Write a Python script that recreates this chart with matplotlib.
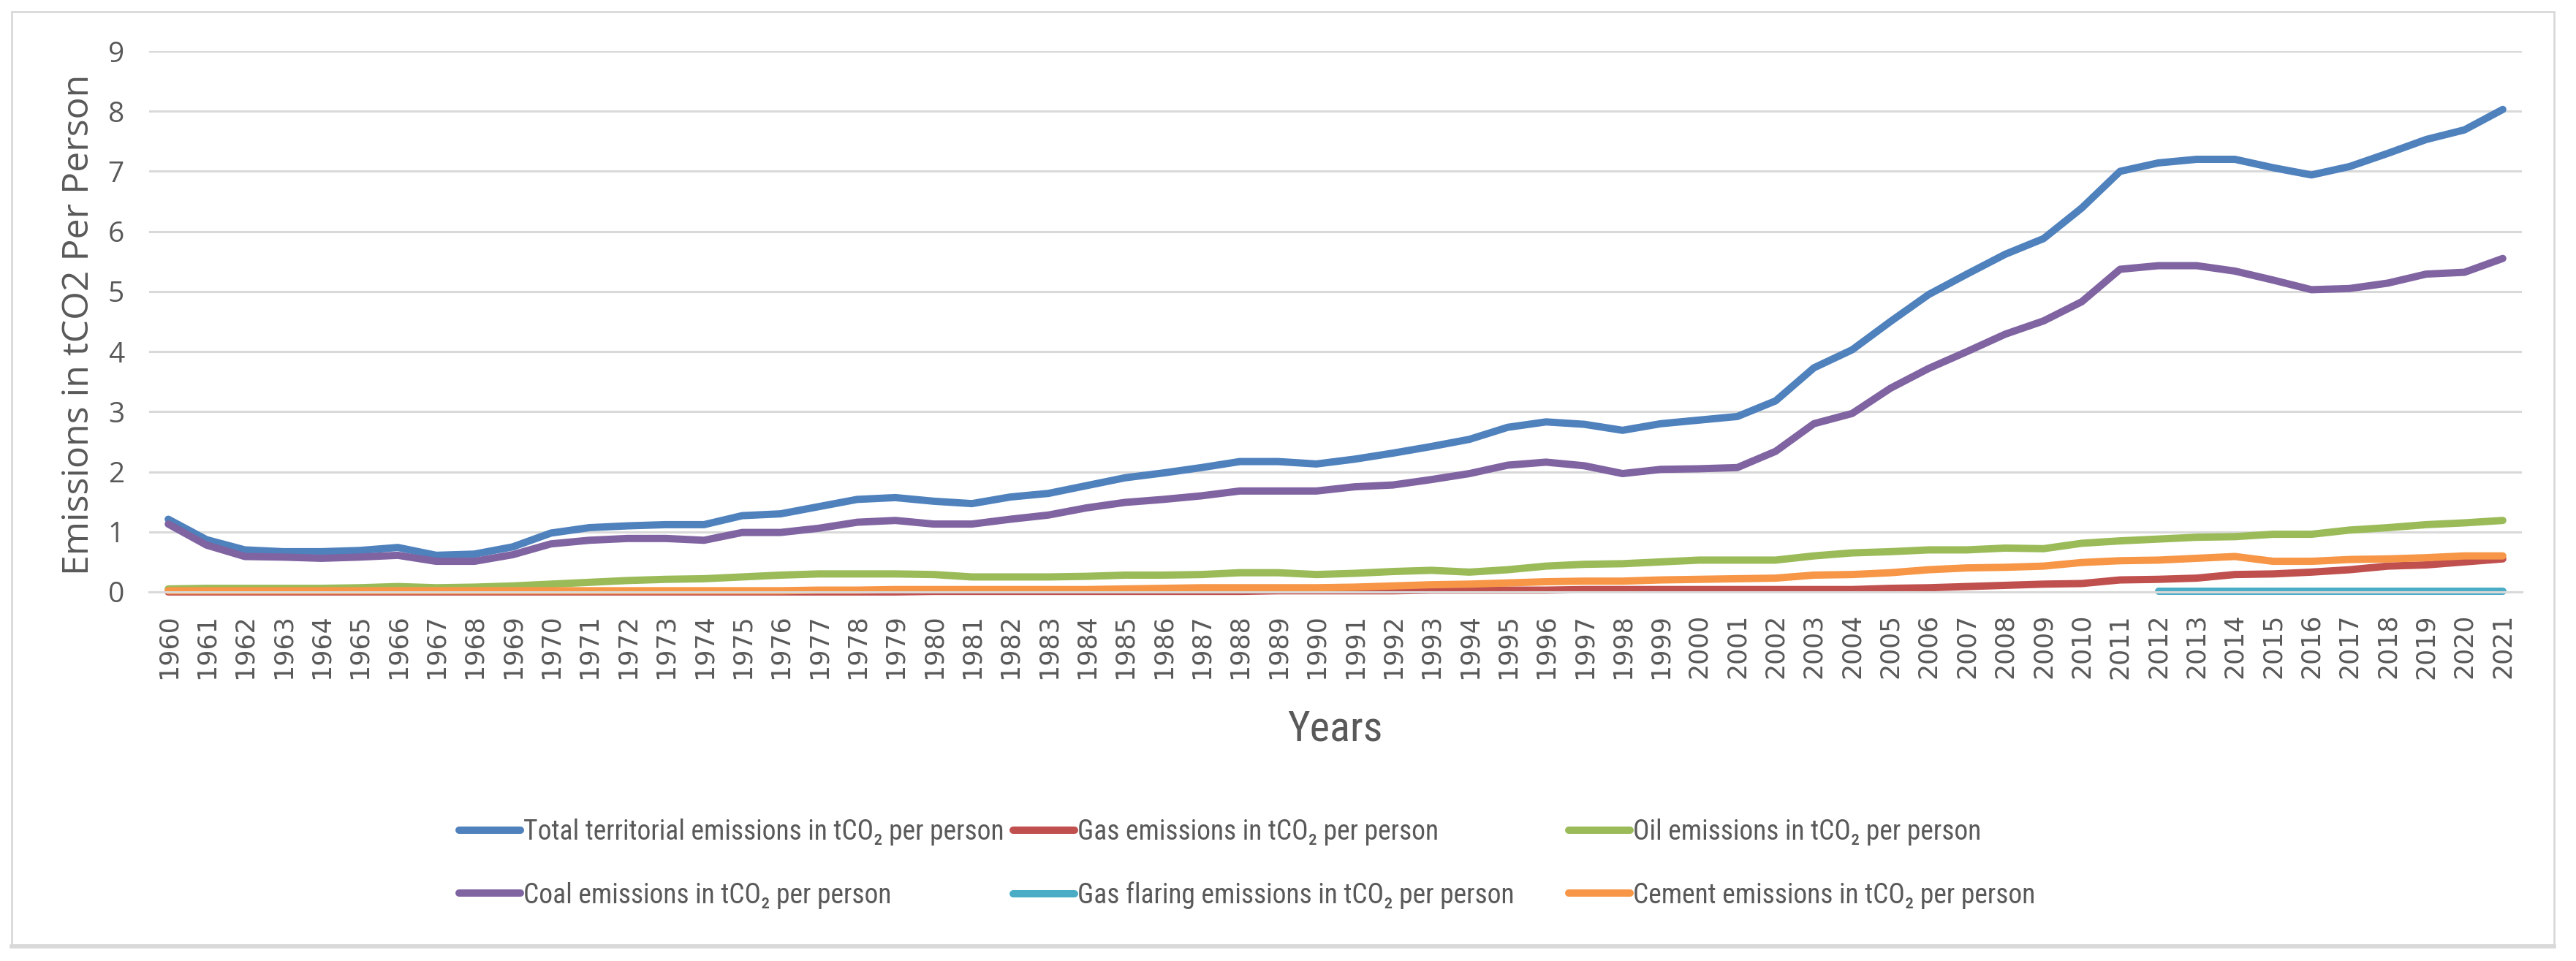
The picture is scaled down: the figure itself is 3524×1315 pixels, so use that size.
import matplotlib
matplotlib.use("Agg")
import matplotlib.pyplot as plt
from matplotlib import font_manager as fm
from matplotlib.patches import Rectangle
import numpy as np

# ---------------- data ----------------
years = list(range(1960, 2022))

total = [1.21, 0.87, 0.70, 0.67, 0.67, 0.69, 0.74, 0.61, 0.63, 0.75,
         0.98, 1.07, 1.10, 1.12, 1.12, 1.27, 1.30, 1.42, 1.54, 1.57,
         1.51, 1.47, 1.58, 1.64, 1.77, 1.90, 1.98, 2.07, 2.17, 2.17,
         2.13, 2.21, 2.31, 2.42, 2.54, 2.74, 2.83, 2.79, 2.69, 2.80,
         2.86, 2.92, 3.18, 3.73, 4.03, 4.50, 4.95, 5.29, 5.62, 5.88,
         6.39, 7.00, 7.14, 7.20, 7.20, 7.06, 6.94, 7.08, 7.30, 7.53,
         7.69, 8.03]

gas = [0.00, 0.00, 0.00, 0.00, 0.00, 0.00, 0.00, 0.00, 0.00, 0.00,
       0.00, 0.00, 0.00, 0.00, 0.00, 0.00, 0.00, 0.00, 0.00, 0.00,
       0.01, 0.01, 0.01, 0.01, 0.01, 0.01, 0.01, 0.01, 0.01, 0.02,
       0.02, 0.02, 0.02, 0.03, 0.03, 0.03, 0.03, 0.04, 0.04, 0.04,
       0.04, 0.04, 0.04, 0.04, 0.04, 0.06, 0.07, 0.09, 0.11, 0.13,
       0.14, 0.20, 0.21, 0.23, 0.29, 0.30, 0.33, 0.37, 0.43, 0.45,
       0.50, 0.55]

oil = [0.05, 0.06, 0.06, 0.06, 0.06, 0.07, 0.09, 0.07, 0.08, 0.10,
       0.13, 0.16, 0.19, 0.21, 0.22, 0.25, 0.28, 0.30, 0.30, 0.30,
       0.29, 0.25, 0.25, 0.25, 0.26, 0.28, 0.28, 0.29, 0.32, 0.32,
       0.29, 0.31, 0.34, 0.36, 0.33, 0.37, 0.43, 0.46, 0.47, 0.50,
       0.53, 0.53, 0.53, 0.60, 0.65, 0.67, 0.70, 0.70, 0.73, 0.72,
       0.81, 0.85, 0.88, 0.91, 0.92, 0.96, 0.96, 1.03, 1.07, 1.12,
       1.15, 1.19]

coal = [1.13, 0.78, 0.59, 0.58, 0.56, 0.58, 0.61, 0.51, 0.51, 0.62,
        0.80, 0.86, 0.89, 0.89, 0.86, 0.99, 0.99, 1.06, 1.16, 1.19,
        1.13, 1.13, 1.21, 1.28, 1.40, 1.49, 1.54, 1.60, 1.68, 1.68,
        1.68, 1.75, 1.78, 1.87, 1.97, 2.11, 2.16, 2.10, 1.97, 2.04,
        2.05, 2.07, 2.34, 2.80, 2.97, 3.39, 3.72, 4.00, 4.29, 4.51,
        4.83, 5.37, 5.43, 5.43, 5.34, 5.19, 5.03, 5.05, 5.14, 5.29,
        5.32, 5.55]

flaring = [None] * 52 + [0.01, 0.01, 0.01, 0.01, 0.01,
                         0.01, 0.01, 0.01, 0.01, 0.01]

cement = [0.02, 0.02, 0.02, 0.02, 0.02, 0.02, 0.02, 0.02, 0.02, 0.02,
          0.02, 0.02, 0.02, 0.02, 0.02, 0.02, 0.02, 0.03, 0.03, 0.04,
          0.04, 0.04, 0.04, 0.04, 0.04, 0.05, 0.06, 0.07, 0.07, 0.07,
          0.07, 0.08, 0.10, 0.12, 0.13, 0.15, 0.17, 0.18, 0.18, 0.20,
          0.21, 0.22, 0.23, 0.28, 0.29, 0.32, 0.37, 0.40, 0.41, 0.43,
          0.49, 0.52, 0.53, 0.56, 0.59, 0.51, 0.51, 0.54, 0.55, 0.57,
          0.60, 0.60]

series_labels = [
    "Total territorial emissions in tCO\u2082 per person",
    "Gas emissions in tCO\u2082 per person",
    "Oil emissions in tCO\u2082 per person",
    "Coal emissions in tCO\u2082 per person",
    "Gas flaring emissions in tCO\u2082 per person",
    "Cement emissions in tCO\u2082 per person",
]
series_values = [total, gas, oil, coal, flaring, cement]
series_colors = ["#4F81BD", "#C0504D", "#9BBB59", "#8064A2", "#4BACC6", "#F79646"]

y_ticks = list(range(0, 10))
y_title = "Emissions in tCO2 Per Person"
x_title = "Years"

# ---------------- fonts ----------------
avail = {f.name for f in fm.fontManager.ttflist}


def pick(cands, default="DejaVu Sans"):
    for c in cands:
        if c in avail:
            return c
    return default


NARROW = pick(["Liberation Sans Narrow", "Roboto Condensed", "DejaVu Sans Condensed",
               "Open Sans Condensed", "Liberation Sans"])
SEGOE = pick(["Open Sans", "Noto Sans", "DejaVu Sans"])
TXT = "#595959"

# ---------------- figure ----------------
W, H = 3524, 1315
fig = plt.figure(figsize=(W / 100, H / 100), dpi=100)
fig.patch.set_facecolor("white")
ax = fig.add_axes([204 / W, 1 - 810 / H, (3450 - 204) / W, 740 / H])

lines = []
for vals, lab, col in zip(series_values, series_labels, series_colors):
    v = np.array([np.nan if x is None else x for x in vals], dtype=float)
    ln, = ax.plot(years, v, color=col, lw=7.2, label=lab,
                  solid_capstyle="round", solid_joinstyle="round", clip_on=False)
    lines.append(ln)

ax.set_xlim(1959.5, 2021.5)
ax.set_ylim(0, 9)
ax.set_yticks(y_ticks)
ax.set_yticklabels([str(t) for t in y_ticks], fontsize=28, color=TXT,
                   family=[SEGOE, "DejaVu Sans"])
ax.set_xticks(years)
ax.set_xticklabels([str(y) for y in years], rotation=90, fontsize=25, color=TXT,
                   family="DejaVu Sans")
ax.tick_params(axis="x", length=0, pad=21.6)
ax.tick_params(axis="y", length=0, pad=24.5)
ax.grid(axis="y", color="#D9D9D9", lw=2.2)
ax.set_axisbelow(True)
for s in ["left", "right", "top"]:
    ax.spines[s].set_visible(False)
ax.spines["bottom"].set_color("#D9D9D9")
ax.spines["bottom"].set_linewidth(2.2)

fig.text(108 / W, 1 - 444 / H, y_title, rotation=90, ha="center", va="center",
         fontsize=36, color=TXT, family=[SEGOE, "DejaVu Sans"])
fig.text(1826 / W, 1 - 1013 / H, x_title, ha="center", va="baseline",
         fontsize=42, color=TXT, family=[NARROW, "DejaVu Sans"])

# ---------------- legend (3 equal-width columns, 2 rows) ----------------
fs = 27.0
fs_px = fs * 100 / 72
groups = [(0, 3), (1, 4), (2, 5)]
col_x = [628, 1386, 2146]
for (a, b), x in zip(groups, col_x):
    fig.legend(handles=[lines[a], lines[b]], labels=[series_labels[a], series_labels[b]],
               loc="center left", bbox_to_anchor=(x / W, 1 - 1182 / H),
               frameon=False, borderpad=0, borderaxespad=0,
               handlelength=84 / fs_px, handletextpad=4 / fs_px,
               labelspacing=1.31,
               prop={"family": [NARROW, "DejaVu Sans"], "size": fs},
               labelcolor=TXT)

# ---------------- chart border ----------------
fig.patches.append(Rectangle((16 / W, 1 - 1293 / H), (3494 - 16) / W, (1293 - 16) / H,
                             transform=fig.transFigure, fill=False,
                             edgecolor="#D9D9D9", lw=2.0))
fig.lines.append(plt.Line2D([16 / W, 3494 / W], [1 - 1295 / H, 1 - 1295 / H],
                            transform=fig.transFigure, color="#D9D9D9", lw=4))

fig.savefig("out.png", dpi=100, facecolor="white")
